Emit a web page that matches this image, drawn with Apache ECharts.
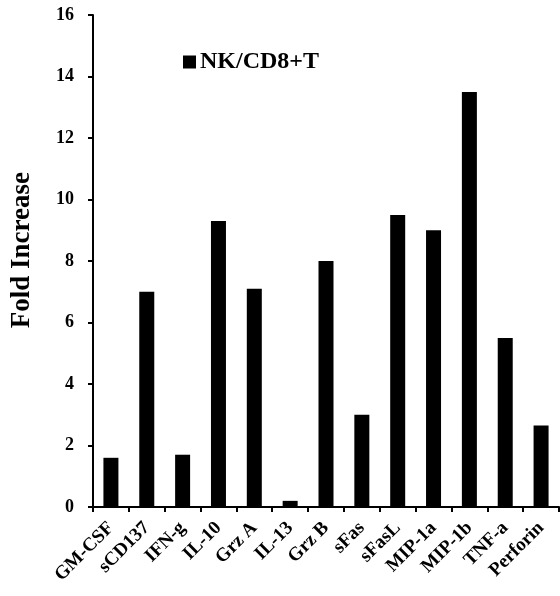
<!DOCTYPE html>
<html>
<head>
<meta charset="utf-8">
<script src="https://cdn.jsdelivr.net/npm/echarts@6/dist/echarts.min.js"></script>
<style>
html,body{margin:0;padding:0;background:#fff;}
#chart{width:560px;height:596px;}
</style>
</head>
<body>
<div id="chart"></div>
<script>
const categories = ["GM-CSF","sCD137","IFN-g","IL-10","Grz A","IL-13","Grz B","sFas","sFasL","MIP-1a","MIP-1b","TNF-a","Perforin"];
const seriesName = "NK/CD8+T";
const values = [1.6, 7.0, 1.7, 9.3, 7.1, 0.2, 8.0, 3.0, 9.5, 9.0, 13.5, 5.5, 2.65];
const yTicks = [0, 2, 4, 6, 8, 10, 12, 14, 16];
const yTitle = "Fold Increase";

const FONT = "'Liberation Serif', 'Times New Roman', serif";
const chart = echarts.init(document.getElementById('chart'));
chart.setOption({
  animation: false,
  backgroundColor: '#fff',
  textStyle: { fontFamily: FONT, color: '#000' },
  legend: {
    data: [seriesName],
    left: 183,
    top: 50,
    padding: 0,
    itemWidth: 13,
    itemHeight: 13,
    icon: 'rect',
    itemGap: 4,
    textStyle: { fontFamily: FONT, fontWeight: 'bold', fontSize: 24, color: '#000', padding: [0, 0, 0, -1] }
  },
  graphic: [{
    type: 'text',
    left: 9,
    top: 172,
    rotation: Math.PI / 2,
    originX: 0, originY: 0,
    style: { text: yTitle, font: "bold 27px 'Liberation Serif', serif", fill: '#000' }
  }],
  grid: { left: 93, right: 1, top: 15, bottom: 89, containLabel: false },
  xAxis: {
    type: 'category',
    data: categories,
    axisLine: { lineStyle: { color: '#000', width: 2 } },
    axisTick: { show: true, alignWithLabel: false, length: 5, lineStyle: { color: '#000', width: 2 } },
    axisLabel: { rotate: 45, fontFamily: FONT, fontWeight: 'bold', fontSize: 19, color: '#000', margin: 18, interval: 0 },
    splitLine: { show: false }
  },
  yAxis: {
    type: 'value',
    min: yTicks[0],
    max: yTicks[yTicks.length - 1],
    interval: 2,
    axisLine: { show: true, lineStyle: { color: '#000', width: 2 } },
    axisTick: { show: true, length: 5, lineStyle: { color: '#000', width: 2 } },
    axisLabel: { fontFamily: FONT, fontWeight: 'bold', fontSize: 18, color: '#000', margin: 19 },
    splitLine: { show: false }
  },
  series: [{
    name: seriesName,
    type: 'bar',
    data: values,
    barWidth: 15,
    itemStyle: { color: '#000' }
  }]
});
</script>
</body>
</html>
